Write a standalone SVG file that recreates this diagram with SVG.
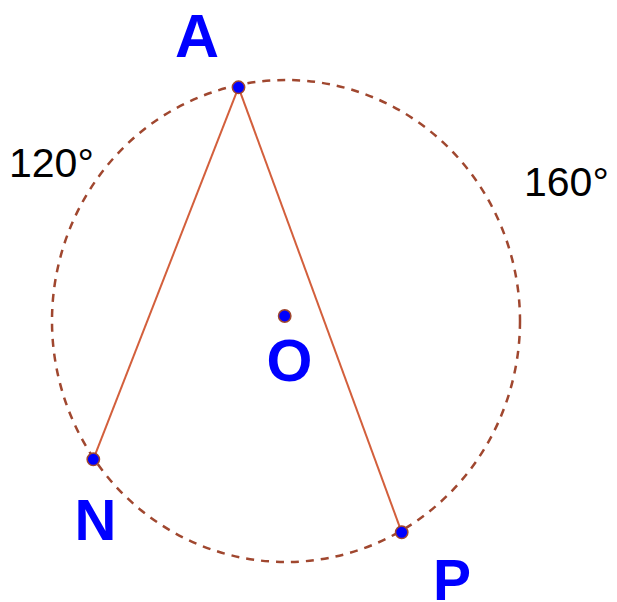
<svg xmlns="http://www.w3.org/2000/svg" width="617" height="602" viewBox="0 0 617 602">
<style>
.circ{fill:none;stroke:#a0472f;stroke-width:2.5;stroke-dasharray:8 7}
.seg{stroke:#d35f3c;stroke-width:2;fill:none}
.pt{fill:#0000ff;stroke:#a0472f;stroke-width:1.5}
.lbl{font-family:"Liberation Sans",Arial,sans-serif;font-weight:bold;fill:#0000ff}
.ang{font-family:"Liberation Sans",Arial,sans-serif;fill:#000;font-size:41px}
</style>
<rect width="617" height="602" fill="#fff"/>
<g id="circle"><ellipse class="circ" cx="286" cy="321" rx="234" ry="241"/></g>
<g id="connectors">
<line class="seg" x1="238.5" y1="87.3" x2="93.3" y2="459.3"/>
<line class="seg" x1="238.5" y1="87.3" x2="401.7" y2="532.3"/>
</g>
<g id="A"><circle class="pt" cx="238.5" cy="87.3" r="6.2"/><text class="lbl" x="197" y="57" font-size="61" text-anchor="middle">A</text></g>
<g id="N"><circle class="pt" cx="93.3" cy="459.3" r="6.2"/><text class="lbl" x="95.5" y="540" font-size="58" text-anchor="middle">N</text></g>
<g id="P"><circle class="pt" cx="401.7" cy="532.3" r="6.2"/><text class="lbl" x="452" y="600" font-size="57" text-anchor="middle">P</text></g>
<g id="O"><circle class="pt" cx="284.7" cy="316" r="6.2"/><text class="lbl" x="289.5" y="381" font-size="59" text-anchor="middle">O</text></g>
<g id="labels">
<text class="ang" x="9" y="177">120°</text>
<text class="ang" x="524" y="196">160°</text>
</g>
</svg>
